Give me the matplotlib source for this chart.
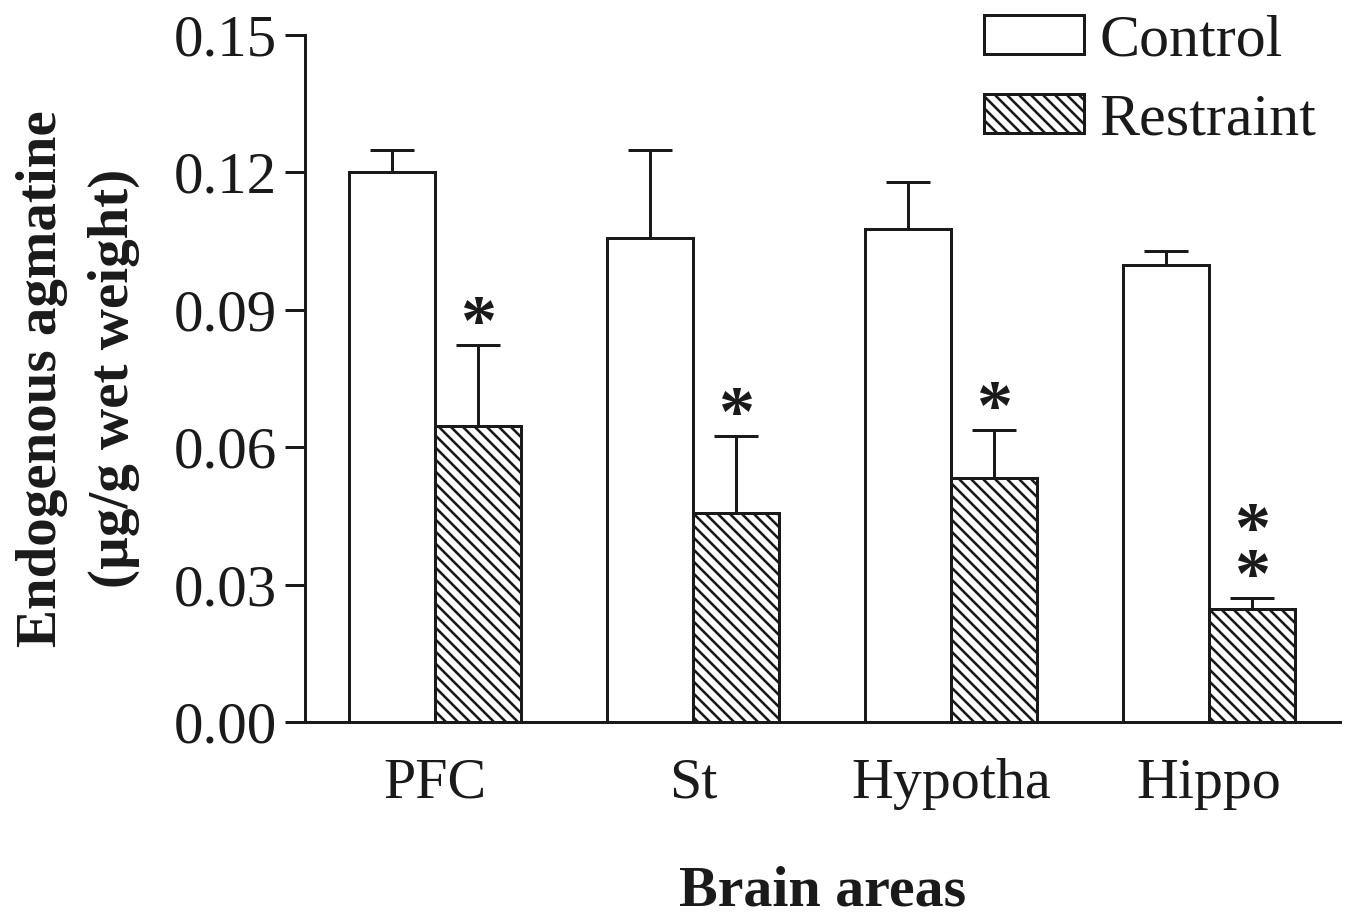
import matplotlib
matplotlib.use("Agg")
import matplotlib.pyplot as plt
import numpy as np

DPI = 72
PT = 72.0 / DPI  # points per pixel

areas = ["PFC", "St", "Hypotha", "Hippo"]
control_mean = [0.120, 0.1057, 0.1076, 0.0998]
control_err = [0.0048, 0.0192, 0.0103, 0.0030]
restraint_mean = [0.0646, 0.0456, 0.0533, 0.0247]
restraint_err = [0.0177, 0.0168, 0.0105, 0.0024]
signif = ["*", "*", "*", "*\n*"]
yticks = [0.00, 0.03, 0.06, 0.09, 0.12, 0.15]

INK = "#1a1a1a"
plt.rcParams["font.family"] = ["Liberation Serif", "DejaVu Serif"]
plt.rcParams["hatch.linewidth"] = 2.6 * PT
plt.rcParams["hatch.color"] = INK

W, H = 1347, 919
fig = plt.figure(figsize=(W / DPI, H / DPI), dpi=DPI)
ax = fig.add_axes([305 / W, 1 - 722 / H, (1340 - 305) / W, (722 - 35) / H])

x = np.arange(len(areas))
w = 1 / 3
lw = 3 * PT
err_kw = dict(elinewidth=lw, capthick=lw, ecolor=INK, capsize=22 * PT)

ax.bar(x - w / 2, control_mean, w, color="white", edgecolor=INK, linewidth=lw,
       label="Control", zorder=2)
ax.errorbar(x - w / 2, control_mean, yerr=[np.zeros(4), control_err], fmt="none", zorder=1, **err_kw)
ax.bar(x + w / 2, restraint_mean, w, color="white", edgecolor=INK, linewidth=lw,
       hatch="\\\\", label="Restraint", zorder=2)
ax.errorbar(x + w / 2, restraint_mean, yerr=[np.zeros(4), restraint_err], fmt="none", zorder=1, **err_kw)

# significance marks above the restraint error bars
for xi, m, e, s in zip(x + w / 2, restraint_mean, restraint_err, signif):
    ax.annotate(s, (xi, m + e), xytext=(0, 1 * PT), textcoords="offset points",
                ha="center", va="baseline", fontsize=72 * PT, fontweight="bold",
                linespacing=0.62, color=INK)

ax.set_xlim(-0.504, 3.508)
ax.set_ylim(0, 0.15)
ax.set_yticks(yticks)
ax.set_yticklabels([f"{v:.2f}" for v in yticks])
ax.set_xticks(x)
ax.set_xticklabels(areas)

for side in ["top", "right"]:
    ax.spines[side].set_visible(False)
for side in ["left", "bottom"]:
    ax.spines[side].set_linewidth(lw)
    ax.spines[side].set_color(INK)

ax.tick_params(axis="y", direction="out", length=20 * PT, width=lw, color=INK,
               labelsize=59 * PT, pad=8 * PT, labelcolor=INK)
ax.tick_params(axis="x", length=0, labelsize=58 * PT, pad=36 * PT, labelcolor=INK)

ax.set_ylabel("Endogenous agmatine\n(µg/g wet weight)", fontsize=57 * PT, fontweight="bold",
              linespacing=1.5, color=INK)
ax.yaxis.set_label_coords((140 - 305) / 1035, 0.5)
ax.set_xlabel("Brain areas", fontsize=58 * PT, fontweight="bold", color=INK)
ax.xaxis.set_label_coords(0.5, (722 - 866) / 687)

leg = ax.legend(loc="upper right", bbox_to_anchor=(1.0, 1.065), frameon=False,
                fontsize=60 * PT, handlelength=1.67, handleheight=0.63,
                handletextpad=0.25, labelspacing=0.42, borderaxespad=0)
for t in leg.get_texts():
    t.set_color(INK)

fig.savefig("out.png", dpi=DPI)
